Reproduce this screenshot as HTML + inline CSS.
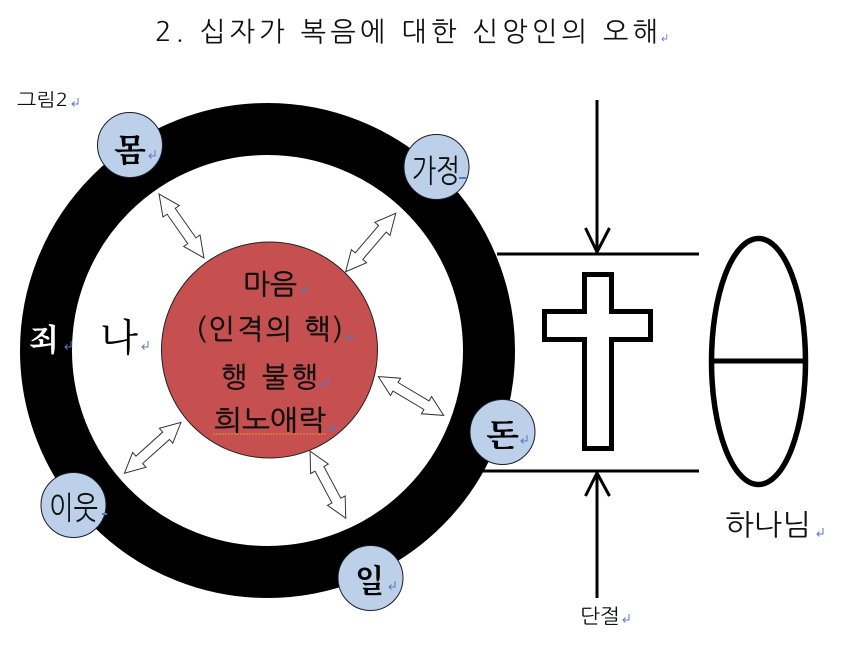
<!DOCTYPE html>
<html lang="ko">
<head>
<meta charset="utf-8">
<title>십자가 복음에 대한 신앙인의 오해</title>
<style>
html,body{margin:0;padding:0;background:#fff}
svg{display:block}
text{font-family:"Liberation Sans","NanumGothic","Noto Sans CJK KR",sans-serif;fill:#111}
.k{font-family:"NanumGothic","Noto Sans CJK KR",sans-serif}
.s{font-family:"Noto Serif CJK SC","NanumGothic",serif;fill:#000}
.m{stroke:#111;stroke-width:.45}
.b{font-weight:700}
</style>
</head>
<body>
<svg width="860" height="659" viewBox="0 0 860 659" xmlns="http://www.w3.org/2000/svg">
<defs>
  <path id="r" d="M6 -6V0H0M2.500 -2.500L0 0L2.500 2.500" fill="none" stroke="#5a78c0" stroke-width="1"/>
</defs>

<text class="k" x="155" y="41" font-size="27" textLength="503" lengthAdjust="spacing">2. 십자가 복음에 대한 신앙인의 오해</text>
<use href="#r" transform="translate(662,39) scale(.8)"/>

<text class="k" x="17" y="106" font-size="18" textLength="51" lengthAdjust="spacingAndGlyphs">그림2</text>
<use href="#r" transform="translate(72,104)"/>

<!-- ring -->
<circle cx="267.500" cy="350.500" r="221.500" fill="none" stroke="#000" stroke-width="52"/>

<!-- connectors to the right -->
<path d="M497 254H699M483 471H699" stroke="#000" stroke-width="3" fill="none"/>
<path d="M597 100V252M585.500 228L597 252L609.500 228" stroke="#000" stroke-width="3" fill="none"/>
<path d="M597 598V474M585.500 496L597 473L609.500 496" stroke="#000" stroke-width="3" fill="none"/>

<!-- centre -->
<circle cx="269.500" cy="350" r="108" fill="#c5504f" stroke="#222" stroke-width="1"/>

<!-- double arrows -->
<g fill="#fff" stroke="#333" stroke-width="1">
  <polygon transform="translate(181.500,226) rotate(54.900)" points="-39,0 -18,-10 -18,-5 18,-5 18,-10 39,0 18,10 18,5 -18,5 -18,10"/>
  <polygon transform="translate(370.700,242.500) rotate(-49.400)" points="-38.500,0 -18,-10 -18,-5 18,-5 18,-10 38.500,0 18,10 18,5 -18,5 -18,10"/>
  <polygon transform="translate(411,396) rotate(30.700)" points="-38,0 -18,-10 -18,-5 18,-5 18,-10 38,0 18,10 18,5 -18,5 -18,10"/>
  <polygon transform="translate(327.900,484.700) rotate(62)" points="-38,0 -18,-10 -18,-5 18,-5 18,-10 38,0 18,10 18,5 -18,5 -18,10"/>
  <polygon transform="translate(152.700,447.800) rotate(-42)" points="-38,0 -18,-10 -18,-5 18,-5 18,-10 38,0 18,10 18,5 -18,5 -18,10"/>
</g>

<!-- satellites -->
<g fill="#bdd0e9" stroke="#1a1a2a" stroke-width="1">
  <circle cx="130" cy="145" r="32.500"/>
  <circle cx="436.500" cy="167" r="32.500"/>
  <circle cx="502.500" cy="432" r="32.500"/>
  <circle cx="370.500" cy="578" r="32.500"/>
  <circle cx="73.500" cy="505" r="32.500"/>
</g>

<text class="s b" x="114" y="161" font-size="32" textLength="32" lengthAdjust="spacingAndGlyphs">몸</text>
<use href="#r" transform="translate(149,156)"/>
<text class="k" x="412" y="182" font-size="32" textLength="48" lengthAdjust="spacingAndGlyphs">가정</text>
<text class="s b" x="486" y="446" font-size="32" textLength="33" lengthAdjust="spacingAndGlyphs">돈</text>
<use href="#r" transform="translate(521,441)"/>
<text class="s b" x="355" y="592" font-size="32" textLength="29" lengthAdjust="spacingAndGlyphs">일</text>
<use href="#r" transform="translate(389,587)"/>
<text class="k" x="49" y="519" font-size="32" textLength="49" lengthAdjust="spacingAndGlyphs">이웃</text>
<path d="M459 178h8M102 514h5" stroke="#5a78c0" stroke-width="2"/>

<text class="s b" x="29" y="351" font-size="31" textLength="30" lengthAdjust="spacingAndGlyphs" style="fill:#fff">죄</text>
<use href="#r" transform="translate(65,347)"/>
<text class="s" x="100" y="351" font-size="38" textLength="38" lengthAdjust="spacingAndGlyphs">나</text>
<use href="#r" transform="translate(142,347)"/>

<text class="k m" x="243" y="294" font-size="28" textLength="54" lengthAdjust="spacingAndGlyphs">마음</text>
<use href="#r" transform="translate(301,291)"/>
<text class="k m" x="196" y="339" font-size="28" textLength="147" lengthAdjust="spacing">(인격의 핵)</text>
<use href="#r" transform="translate(346,338)"/>
<text class="k m" x="221" y="387" font-size="28" textLength="97" lengthAdjust="spacing">행 불행</text>
<use href="#r" transform="translate(322,384)"/>
<text class="k m" x="214" y="430" font-size="28" textLength="112" lengthAdjust="spacingAndGlyphs">희노애락</text>
<use href="#r" transform="translate(329,429)"/>
<path d="M213 434H327" stroke="#e8913a" stroke-width="1" stroke-dasharray="2 1"/>

<!-- cross -->
<path d="M584.500 274.500H611.500V311.500H650.500V339.500H611.500V448.500H584.500V339.500H544.500V311.500H584.500Z" fill="#fff" stroke="#000" stroke-width="5"/>

<!-- God ellipse -->
<ellipse cx="758.500" cy="361.500" rx="47" ry="123" fill="#fff" stroke="#000" stroke-width="5.500"/>
<path d="M712 361H805" stroke="#000" stroke-width="5"/>

<text class="k" x="725" y="535" font-size="29" textLength="86" lengthAdjust="spacingAndGlyphs">하나님</text>
<use href="#r" transform="translate(817,534)"/>
<text class="k" x="580" y="623" font-size="20" textLength="40" lengthAdjust="spacingAndGlyphs">단절</text>
<use href="#r" transform="translate(623,620)"/>
</svg>
</body>
</html>
